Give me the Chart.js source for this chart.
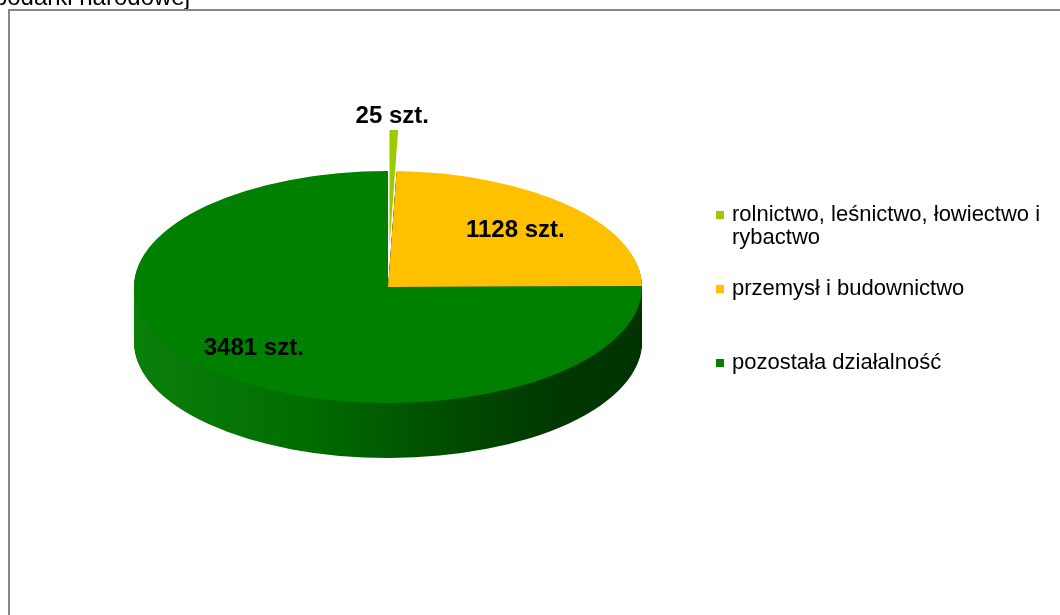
<!DOCTYPE html>
<html>
<head>
<meta charset="utf-8">
<script src="https://cdn.jsdelivr.net/npm/chart.js@4"></script>
<style>
  html, body { margin: 0; padding: 0; background: #fff; }
  #wrap { position: relative; width: 1060px; height: 615px; overflow: hidden; }
</style>
</head>
<body>
<div id="wrap"><canvas id="pieChart" width="1060" height="615"></canvas></div>
<script>
const categories = ['rolnictwo, leśnictwo, łowiectwo i rybactwo', 'przemysł i budownictwo', 'pozostała działalność'];
const counts = [25, 1128, 3481];
const unit = 'szt.';
const sliceColors = ['#99CC00', '#FFC000', '#008000'];
const exploded = [true, false, false];

// where the tilted pie sits on the page
const CX = 388, CY = 287, RX = 254, RY = 116, DEPTH = 55, PULL = 41;
const labelDepth = [1, 0.7, 0.75];
const legendY = [215, 289, 363];

function toScreen(arc, ang, r) {
  return {
    x: CX + Math.cos(ang) * r * RX / arc.outerRadius,
    y: CY + Math.sin(ang) * r * RY / arc.outerRadius
  };
}

function wrapText(ctx, text, maxW) {
  const words = text.split(' ');
  const lines = [];
  let line = '';
  words.forEach(w => {
    const test = line ? line + ' ' + w : w;
    if (ctx.measureText(test).width > maxW && line) {
      lines.push(line);
      line = w;
    } else {
      line = test;
    }
  });
  lines.push(line);
  return lines;
}

function tilt(ctx, a0) {
  const R = a0.outerRadius;
  ctx.translate(CX, CY);
  ctx.scale(RX / R, RY / R);
  ctx.translate(-a0.x, -a0.y);
}

let savedOpts = [];

const pie3d = {
  id: 'pie3d',
  beforeDraw(chart) {
    const ctx = chart.ctx;
    ctx.save();
    ctx.fillStyle = '#000';
    ctx.font = '24px "Liberation Sans", Arial, sans-serif';
    ctx.textAlign = 'right';
    ctx.textBaseline = 'alphabetic';
    ctx.fillText('gospodarki narodowej', 190, 5);
    ctx.strokeStyle = '#878787';
    ctx.lineWidth = 2;
    ctx.strokeRect(9, 10, 1200, 800);
    ctx.restore();
  },
  beforeDatasetsDraw(chart) {
    const ctx = chart.ctx;
    const meta = chart.getDatasetMeta(0);
    const a0 = meta.data[0];
    const R = a0.outerRadius;

    // side wall: the slices pushed down step by step
    ctx.save();
    tilt(ctx, a0);
    const g = ctx.createLinearGradient(a0.x - R, 0, a0.x + R, 0);
    g.addColorStop(0, '#0a7f0a');
    g.addColorStop(0.35, '#006c00');
    g.addColorStop(0.6, '#004f00');
    g.addColorStop(0.8, '#003a00');
    g.addColorStop(1, '#003300');
    for (let d = DEPTH; d > 0; d--) {
      meta.data.forEach((arc, i) => {
        if (exploded[i]) return;
        const o = arc.options;
        arc.options = Object.assign({}, o, {backgroundColor: g, borderWidth: 0});
        ctx.save();
        ctx.translate(0, d * R / RY);
        arc.draw(ctx);
        ctx.restore();
        arc.options = o;
      });
    }

    // pulled-out slice, drawn by hand, hidden in the normal pass
    savedOpts = [];
    meta.data.forEach((arc, i) => {
      if (!exploded[i]) return;
      const mid = (arc.startAngle + arc.endAngle) / 2;
      const d = PULL * R / RY;
      ctx.save();
      ctx.translate(Math.cos(mid) * d, Math.sin(mid) * d);
      arc.draw(ctx);
      ctx.restore();
      savedOpts.push([arc, arc.options]);
      arc.options = Object.assign({}, arc.options, {backgroundColor: 'rgba(0,0,0,0)'});
    });
    ctx.restore();

    // top face
    ctx.save();
    tilt(ctx, a0);
  },
  afterDatasetsDraw(chart) {
    const ctx = chart.ctx;
    ctx.restore();
    savedOpts.forEach(([arc, o]) => { arc.options = o; });

    const meta = chart.getDatasetMeta(0);
    ctx.save();
    ctx.fillStyle = '#000';
    ctx.font = 'bold 24px "Liberation Sans", Arial, sans-serif';
    ctx.textAlign = 'center';
    ctx.textBaseline = 'middle';
    meta.data.forEach((arc, i) => {
      const mid = (arc.startAngle + arc.endAngle) / 2;
      const text = counts[i] + ' ' + unit;
      if (exploded[i]) {
        const p = toScreen(arc, mid, arc.outerRadius);
        ctx.fillText(text, p.x, p.y - PULL - 14);
      } else {
        const p = toScreen(arc, mid, arc.outerRadius * labelDepth[i]);
        ctx.fillText(text, p.x, p.y);
      }
    });

    // legend
    ctx.font = '22px "Liberation Sans", Arial, sans-serif';
    ctx.textAlign = 'left';
    categories.forEach((name, i) => {
      const lines = wrapText(ctx, name, 320);
      ctx.fillStyle = sliceColors[i];
      ctx.fillRect(716, legendY[i] - 4, 8, 8);
      ctx.fillStyle = '#000';
      lines.forEach((ln, k) => ctx.fillText(ln, 732, legendY[i] + k * 23));
    });
    ctx.restore();
  }
};

new Chart(document.getElementById('pieChart'), {
  type: 'pie',
  data: {
    labels: categories,
    datasets: [{
      data: counts,
      backgroundColor: sliceColors,
      borderWidth: 0,
      clip: false
    }]
  },
  options: {
    responsive: false,
    animation: false,
    events: [],
    plugins: {
      legend: { display: false },
      tooltip: { enabled: false }
    }
  },
  plugins: [pie3d]
});
</script>
</body>
</html>
